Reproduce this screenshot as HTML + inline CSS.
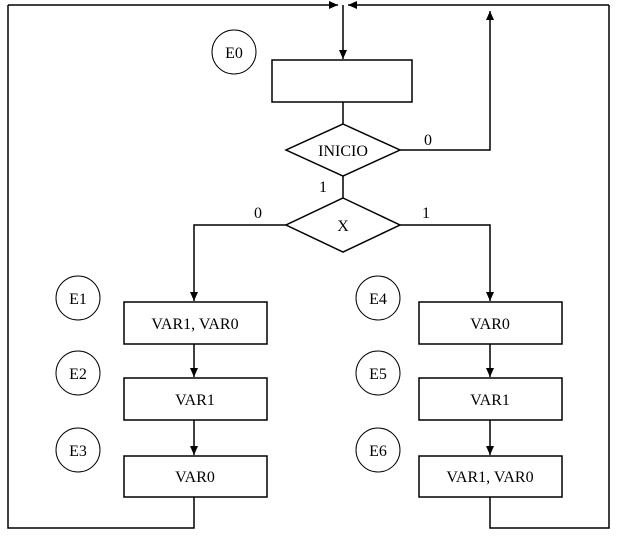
<!DOCTYPE html>
<html><head><style>html,body{margin:0;padding:0;background:#fff}</style></head><body>
<svg width="620" height="540" xmlns="http://www.w3.org/2000/svg" style="display:block">
<defs><marker id="a" markerWidth="10" markerHeight="10" refX="9" refY="5" orient="auto" markerUnits="userSpaceOnUse"><path d="M0,1 L9,5 L0,9 Z" fill="#000"/></marker></defs>
<g fill="none" stroke="#000" stroke-width="1.5">
<polyline points="8,5 338,5" marker-end="url(#a)"/>
<polyline points="609,5 348,5" marker-end="url(#a)"/>
<polyline points="8,5 8,528 194,528 194,497"/>
<polyline points="609,5 609,528 490,528 490,497"/>
<line x1="343" y1="5" x2="343" y2="59" marker-end="url(#a)"/>
<rect x="272" y="60" width="140" height="42"/>
<line x1="343" y1="102" x2="343" y2="124"/>
<polygon points="343,124 400,150 343,176 286,150"/>
<polyline points="400,150 490,150 490,11" marker-end="url(#a)"/>
<line x1="343" y1="176" x2="343" y2="198"/>
<polygon points="343,198 400,225 343,252 286,225"/>
<polyline points="286,225 194,225 194,301" marker-end="url(#a)"/>
<polyline points="400,225 490,225 490,301" marker-end="url(#a)"/>
<rect x="124" y="302" width="143" height="42"/>
<rect x="124" y="378" width="143" height="42"/>
<rect x="124" y="456" width="143" height="41"/>
<rect x="419" y="302" width="143" height="42"/>
<rect x="419" y="378" width="143" height="42"/>
<rect x="419" y="456" width="143" height="41"/>
<line x1="194" y1="344" x2="194" y2="377" marker-end="url(#a)"/>
<line x1="194" y1="420" x2="194" y2="455" marker-end="url(#a)"/>
<line x1="490" y1="344" x2="490" y2="377" marker-end="url(#a)"/>
<line x1="490" y1="420" x2="490" y2="455" marker-end="url(#a)"/>
<g stroke-width="1">
<circle cx="234" cy="52" r="22"/>
<circle cx="78" cy="298" r="22"/><circle cx="78" cy="373" r="22"/><circle cx="78" cy="450" r="22"/>
<circle cx="378" cy="298" r="22"/><circle cx="378" cy="373" r="22"/><circle cx="378" cy="450" r="22"/>
</g>
</g>
<g font-family="Liberation Serif, serif" font-size="16" text-anchor="middle" fill="#000">
<text x="234" y="58">E0</text>
<text x="343" y="156">INICIO</text>
<text x="343" y="231">X</text>
<text x="428" y="145">0</text>
<text x="323" y="192">1</text>
<text x="258" y="218">0</text>
<text x="426" y="218">1</text>
<text x="78" y="304">E1</text><text x="78" y="379">E2</text><text x="78" y="456">E3</text>
<text x="378" y="304">E4</text><text x="378" y="379">E5</text><text x="378" y="456">E6</text>
<text x="195" y="329">VAR1, VAR0</text>
<text x="195" y="405">VAR1</text>
<text x="195" y="482">VAR0</text>
<text x="490" y="329">VAR0</text>
<text x="490" y="405">VAR1</text>
<text x="490" y="482">VAR1, VAR0</text>
</g>
</svg>
</body></html>
